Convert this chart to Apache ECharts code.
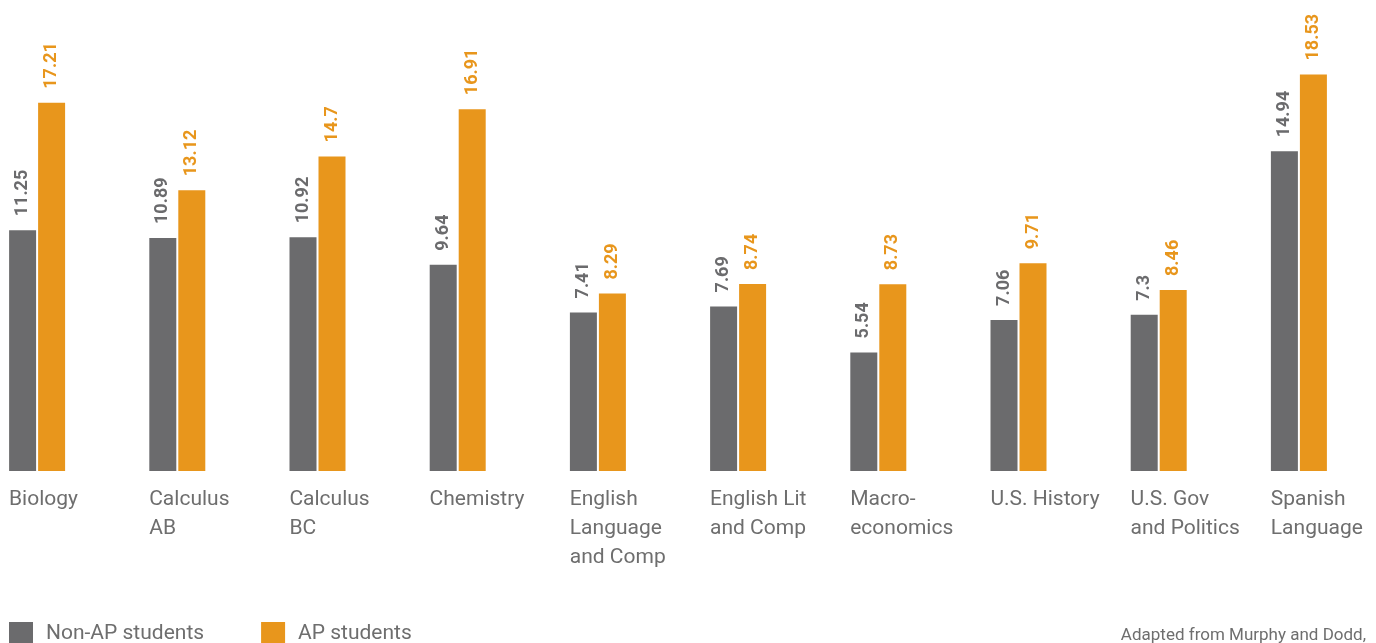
<!DOCTYPE html>
<html>
<head>
<meta charset="utf-8">
<script src="https://cdn.jsdelivr.net/npm/echarts@6/dist/echarts.min.js"></script>
<style>
html,body{margin:0;padding:0;background:#fff;}
#chart{width:1376px;height:643px;}
</style>
</head>
<body>
<div id="chart"></div>
<script>
const categories = ["Biology", "Calculus\nAB", "Calculus\nBC", "Chemistry", "English\nLanguage\nand Comp", "English Lit\nand Comp", "Macro-\neconomics", "U.S. History", "U.S. Gov\nand Politics", "Spanish\nLanguage"];
const nonAP = [11.25, 10.89, 10.92, 9.64, 7.41, 7.69, 5.54, 7.06, 7.3, 14.94];
const ap = [17.21, 13.12, 14.7, 16.91, 8.29, 8.74, 8.73, 9.71, 8.46, 18.53];
const seriesNames = ["Non-AP students", "AP students"];
const sourceNote = "Adapted from Murphy and Dodd,";

const GRAY = '#6b6b6d';
const ORANGE = '#e8961c';
const TEXT = '#6e6e6e';
const FONT = 'Roboto, "Liberation Sans", sans-serif';

const chart = echarts.init(document.getElementById('chart'));

function valueLabel(color) {
  return {
    show: true,
    position: 'top',
    distance: 14,
    rotate: 90,
    align: 'left',
    verticalAlign: 'middle',
    color: color,
    fontFamily: FONT,
    fontWeight: 'bold',
    fontSize: 18,
    formatter: p => String(p.value)
  };
}

chart.setOption({
  animation: false,
  backgroundColor: '#fff',
  grid: { left: 9, top: 43, width: 1402, height: 428, containLabel: false, outerBoundsMode: 'none' },
  xAxis: [
    {
      type: 'category',
      data: categories,
      show: false
    },
    {
      type: 'category',
      data: categories.concat(['']),
      boundaryGap: false,
      position: 'bottom',
      axisLine: { show: false },
      axisTick: { show: false },
      axisLabel: {
        interval: 0,
        align: 'left',
        verticalAlign: 'top',
        margin: 14,
        color: TEXT,
        fontFamily: FONT,
        fontSize: 21,
        lineHeight: 29
      }
    }
  ],
  yAxis: {
    type: 'value',
    min: 0,
    max: 20,
    show: false
  },
  legend: {
    data: seriesNames,
    left: 9,
    top: 622,
    padding: 0,
    icon: 'rect',
    itemWidth: 24,
    itemHeight: 24,
    itemGap: 57,
    textStyle: { color: TEXT, fontFamily: FONT, fontSize: 21, padding: [0, 0, 0, 8] }
  },
  series: [
    {
      name: seriesNames[0],
      type: 'bar',
      xAxisIndex: 0,
      data: nonAP,
      barWidth: 27,
      barGap: '7.4%',
      itemStyle: { color: GRAY },
      label: valueLabel(GRAY)
    },
    {
      name: seriesNames[1],
      type: 'bar',
      xAxisIndex: 0,
      data: ap,
      barWidth: 27,
      barGap: '7.4%',
      itemStyle: { color: ORANGE },
      label: valueLabel(ORANGE)
    },
    {
      name: 'spacer',
      type: 'bar',
      xAxisIndex: 0,
      data: categories.map(() => 0),
      barWidth: 82,
      barGap: '7.4%',
      itemStyle: { color: 'rgba(0,0,0,0)' },
      silent: true
    }
  ],
  graphic: [
    {
      type: 'text',
      right: 10,
      top: 627,
      style: { text: sourceNote, fill: TEXT, font: '17px ' + FONT }
    }
  ]
});
</script>
</body>
</html>
